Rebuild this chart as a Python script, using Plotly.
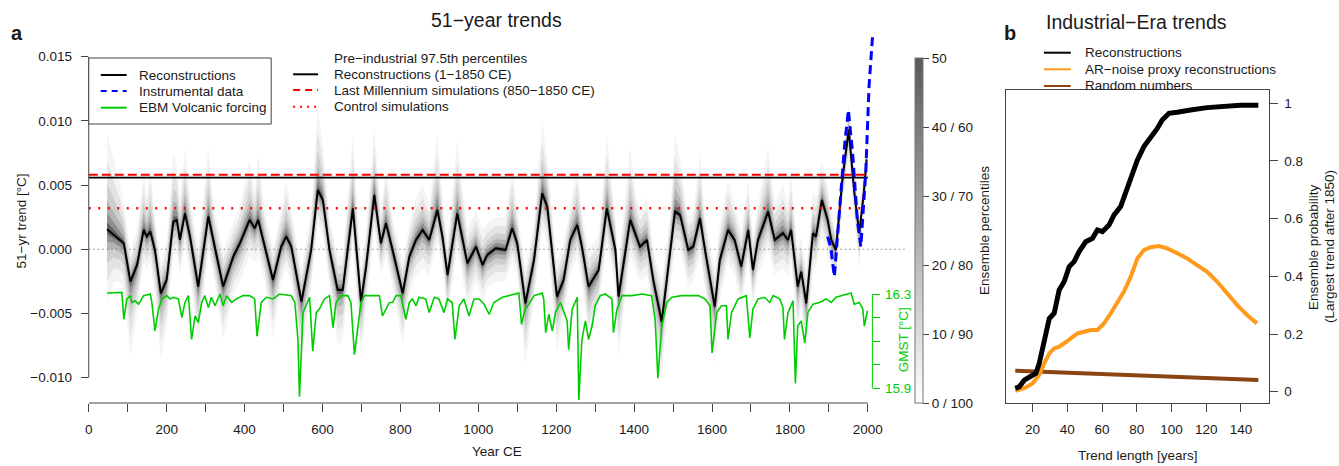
import plotly.graph_objects as go

W, H = 1339, 466
FONT = "Liberation Sans, Arial, sans-serif"

# ---------------- Panel a data ----------------
# Reconstruction ensemble median 51-yr trend (units: 1e-3 degC)
rec_years = [47,64,81,90,107,124,141,149,158,170,185,200,217,226,234,247,260,281,307,320,345,371,388,413,426,435,452,473,494,507,520,546,571,588,601,618,639,652,678,699,712,733,750,763,780,806,823,840,857,874,895,908,921,946,972,994,1011,1023,1045,1070,1087,1100,1121,1143,1164,1177,1202,1219,1236,1254,1266,1283,1309,1330,1352,1360,1390,1403,1415,1433,1450,1471,1492,1505,1518,1539,1552,1569,1582,1607,1620,1641,1658,1675,1693,1705,1718,1744,1761,1782,1795,1803,1820,1829,1842,1859,1867,1882,1897,1906,1918,1935,1951,1965,1978,1990,1997]
rec_median = [1.56,1.12,0.73,0.47,-2.52,-1.22,1.5,0.99,1.38,-0.05,-3.43,-2.39,2.16,2.29,0.73,2.8,0.99,-2.9,2.55,0.73,-2.9,-0.57,0.47,2.29,1.64,2.29,0.21,-2.39,0.21,0.99,0.21,-4.08,-0.05,4.62,3.84,-0.05,-3.17,-3.17,3.19,-4.08,-1.35,4.23,0.47,2.03,-0.05,-3.43,-0.57,0.73,1.5,0.73,3.06,0.99,-2.0,2.8,-1.09,0.21,-1.22,-0.44,0.08,-0.05,1.64,0.47,-4.21,-0.83,4.36,3.32,-3.69,-2.39,0.73,1.9,0.21,-2.9,-1.61,3.19,-0.05,-3.69,2.29,1.25,0.21,0.73,-2.52,-5.64,-0.05,2.94,2.68,-0.05,0.21,2.42,-0.05,-4.47,-0.83,1.51,0.73,-1.35,1.51,-1.61,0.73,2.94,0.73,1.25,0.73,1.51,-2.9,-1.74,-4.21,1.25,0.99,3.84,2.29,0.73,-0.05,5.5,9.3,4.5,1.25,4.5,7.0]
rec_upper = [9.0,7.0,5.0,3.5,0.0,1.5,6.0,4.0,6.5,2.5,-1.0,0.5,7.5,6.5,4.0,8.0,4.0,0.0,8.0,3.5,0.0,2.0,3.5,7.0,4.5,7.5,3.0,0.0,3.0,5.5,3.0,-1.5,3.0,11.0,8.0,2.5,-0.5,-0.5,9.0,-1.5,1.5,9.5,3.0,6.5,2.5,-1.0,2.0,4.0,5.0,3.5,9.0,4.0,0.5,8.5,1.5,3.0,1.5,2.0,2.5,2.5,6.5,3.0,-1.5,2.0,10.0,7.0,-1.0,0.5,3.5,6.5,3.0,0.0,1.0,9.0,2.5,-1.0,8.0,4.5,3.0,4.0,0.0,-2.5,2.5,9.0,7.0,2.5,3.0,7.5,2.5,-1.5,2.0,5.5,3.5,1.5,5.5,1.0,3.5,8.0,3.5,5.0,3.5,6.0,0.0,1.0,-1.5,4.5,4.0,7.0,5.0,3.0,1.5,7.5,11.5,6.5,2.5,6.5,9.5]
rec_lower = [-4.0,-2.5,-2.5,-3.0,-8.5,-5.0,-1.0,-1.5,-1.0,-3.5,-8.5,-6.0,-0.5,-0.3,-2.0,0.3,-2.0,-7.5,-0.2,-2.0,-7.0,-3.5,-2.5,-0.5,-1.0,-0.5,-2.5,-7.0,-2.5,-1.5,-2.5,-9.0,-3.0,2.0,1.0,-3.0,-7.5,-7.0,0.5,-8.5,-4.5,1.5,-2.0,-0.5,-3.0,-7.5,-3.5,-2.0,-1.5,-2.0,0.5,-1.5,-5.5,0.2,-4.5,-2.5,-4.0,-3.0,-2.5,-2.5,-1.0,-2.0,-9.0,-4.0,1.5,0.5,-8.0,-5.5,-2.0,-0.5,-2.5,-7.0,-4.5,0.5,-3.0,-8.5,-0.5,-1.5,-2.5,-2.0,-6.0,-10.0,-3.0,0.0,0.0,-3.0,-2.5,-0.5,-3.0,-9.0,-4.0,-1.0,-2.0,-4.5,-1.0,-4.5,-2.0,0.0,-2.0,-1.5,-2.0,-1.0,-6.5,-4.5,-8.5,-1.5,-1.5,1.0,-0.5,-1.5,-2.5,3.5,7.0,2.5,-1.5,2.5,5.0]

# Instrumental data (1e-3 degC)
inst_years = [1897,1905,1914,1927,1940,1950,1961,1973,1982,1995,2003,2012]
inst_vals = [0.98,0.1,-2.13,2.8,8.0,10.85,7.47,2.28,0.2,6.18,12.66,16.56]

# EBM volcanic forcing GMST (degC)
ebm_years = [47,85,90,98,107,111,119,128,141,158,162,170,179,188,200,209,217,230,239,247,256,264,273,281,290,298,307,315,324,337,345,354,367,379,396,413,426,432,443,456,473,490,520,529,537,541,550,567,575,584,592,605,618,627,635,648,665,673,682,691,699,708,737,746,754,763,772,780,789,801,814,823,831,840,848,865,874,887,899,912,921,933,940,951,963,976,989,1002,1015,1028,1040,1062,1079,1104,1111,1120,1130,1143,1164,1168,1173,1181,1190,1198,1211,1228,1232,1241,1254,1258,1266,1275,1283,1292,1300,1313,1326,1343,1347,1356,1369,1394,1420,1445,1454,1461,1471,1484,1497,1522,1539,1565,1582,1595,1600,1612,1624,1637,1641,1650,1667,1688,1697,1705,1718,1735,1748,1757,1774,1782,1786,1795,1808,1814,1820,1829,1838,1846,1859,1876,1893,1906,1918,1931,1957,1965,1978,1987,1991,1999]
ebm_gmst = [16.304,16.307,16.193,16.279,16.293,16.264,16.271,16.257,16.293,16.300,16.264,16.143,16.236,16.279,16.293,16.279,16.286,16.279,16.200,16.264,16.293,16.107,16.207,16.179,16.264,16.293,16.243,16.286,16.250,16.300,16.250,16.293,16.264,16.279,16.293,16.293,16.279,16.121,16.264,16.286,16.279,16.300,16.293,16.264,16.107,15.864,16.221,16.286,16.057,16.221,16.236,16.279,16.293,16.157,16.264,16.293,16.293,16.264,16.043,16.164,16.264,16.293,16.293,16.293,16.207,16.236,16.264,16.264,16.293,16.293,16.193,16.264,16.279,16.250,16.286,16.279,16.221,16.286,16.279,16.221,16.279,16.264,16.107,16.250,16.279,16.207,16.279,16.279,16.257,16.214,16.264,16.286,16.293,16.304,16.171,16.236,16.257,16.293,16.304,16.279,16.136,16.214,16.143,16.221,16.264,16.186,16.064,16.236,16.286,15.850,16.107,16.186,16.107,16.164,16.250,16.293,16.300,16.279,16.136,16.236,16.293,16.293,16.300,16.293,16.193,15.943,16.164,16.264,16.286,16.293,16.293,16.293,16.279,16.250,16.050,16.221,16.250,16.250,16.107,16.221,16.279,16.293,16.114,16.236,16.279,16.286,16.264,16.293,16.279,16.243,16.107,16.221,16.271,15.921,16.164,16.186,16.093,16.221,16.257,16.264,16.279,16.264,16.286,16.293,16.304,16.257,16.264,16.236,16.164,16.229]

# Pre-industrial 97.5th percentiles (1e-3 degC)
pct_span = [0, 2000]
pct_reconstructions = 5.58
pct_lastmillennium = 5.81
pct_control = 3.19

# Colorbar ticks
cb_vals = [0, 10, 20, 30, 40, 50]
cb_text = ["0 / 100", "10 / 90", "20 / 80", "30 / 70", "40 / 60", "50"]

# ---------------- Panel b data ----------------
rec_len = [10,12.3,15.2,19,21.9,23.8,25.7,27.7,29.6,32.4,35.3,38.2,41.1,43.9,46.8,50.6,54.5,57.3,60.2,64,66.9,70.7,74.5,77.4,80.3,84.1,87.9,91.8,94.6,98.5,103.3,107.1,110.9,120.5,130,139.6,150]
rec_prob = [0.012,0.017,0.04,0.052,0.064,0.098,0.156,0.202,0.254,0.272,0.353,0.382,0.434,0.451,0.486,0.520,0.532,0.561,0.555,0.578,0.613,0.642,0.711,0.757,0.803,0.850,0.879,0.913,0.942,0.965,0.969,0.971,0.977,0.985,0.991,0.993,0.993]
ar_len = [10,15.2,20,23.8,26.7,29.6,32.4,35.3,38.2,42,45.8,49.7,53.5,57.3,61.1,65,68.8,72.6,76.5,80.3,84.1,87.9,92.7,97.5,103.3,109,114.7,120.5,126.2,132,137.7,143.5,149.2]
ar_prob = [0.003,0.012,0.029,0.058,0.098,0.133,0.150,0.156,0.168,0.185,0.202,0.208,0.214,0.214,0.237,0.272,0.312,0.347,0.399,0.462,0.491,0.501,0.505,0.497,0.480,0.462,0.439,0.416,0.382,0.341,0.301,0.266,0.237]
rnd_len = [10,40,70,100,130,150]
rnd_prob = [0.073,0.066,0.058,0.052,0.045,0.041]

# ---------------- helpers ----------------
def PX(x):
    return x / W

def PY(y):
    return 1 - y / H

milli = lambda arr: [v / 1000.0 for v in arr]

GREEN = "#00CD00"
BLUE = "#0000FF"
RED = "#FF0000"
ORANGE = "#FF9A1A"
BROWN = "#8B4513"
AX = "#444444"
TXT = "#1a1a1a"

# panel a geometry (pixels)
a_left, a_right, a_top, a_bot = 85, 905.5, 28.5, 403
ya_lo = (249.3 - a_bot) / 12840.0
ya_hi = (249.3 - a_top) / 12840.0
g_per = 235.75
g_lo = 15.9 - (a_bot - 388.3) / g_per
g_hi = 16.3 + (294 - a_top) / g_per

# panel b geometry
b_left, b_right, b_top, b_bot = 1005, 1268.3, 90, 402.7

fig = go.Figure()

# gray ensemble shading
med = milli(rec_median)
up = milli(rec_upper)
lo = milli(rec_lower)
layers = [(1.0, 0.045), (0.72, 0.065), (0.48, 0.09), (0.3, 0.13), (0.17, 0.2), (0.07, 0.32)]
for f, a in layers:
    uu = [m + f * (u - m) for m, u in zip(med, up)]
    ll = [m + f * (l - m) for m, l in zip(med, lo)]
    fig.add_trace(go.Scatter(
        x=rec_years + rec_years[::-1], y=uu + ll[::-1],
        fill="toself", fillcolor=f"rgba(0,0,0,{a})", line=dict(width=0),
        mode="lines", hoverinfo="skip", showlegend=False, xaxis="x", yaxis="y"))

# zero line
fig.add_trace(go.Scatter(x=[0, 2100], y=[0, 0], mode="lines",
                         line=dict(color="#888888", width=1, dash="1.5px,3px"),
                         showlegend=False, xaxis="x", yaxis="y"))

# EBM green
fig.add_trace(go.Scatter(x=ebm_years, y=ebm_gmst, mode="lines",
                         line=dict(color=GREEN, width=1.6),
                         showlegend=False, xaxis="x", yaxis="y2"))

# median
fig.add_trace(go.Scatter(x=rec_years, y=med, mode="lines",
                         line=dict(color="#000000", width=2),
                         showlegend=False, xaxis="x", yaxis="y"))

# percentile lines
fig.add_trace(go.Scatter(x=pct_span, y=milli([pct_lastmillennium] * 2), mode="lines",
                         line=dict(color=RED, width=2, dash="9px,4px"),
                         showlegend=False, xaxis="x", yaxis="y"))
fig.add_trace(go.Scatter(x=pct_span, y=milli([pct_reconstructions] * 2), mode="lines",
                         line=dict(color="#000000", width=1.6),
                         showlegend=False, xaxis="x", yaxis="y"))
fig.add_trace(go.Scatter(x=pct_span, y=milli([pct_control] * 2), mode="lines",
                         line=dict(color=RED, width=2.5, dash="2px,7.5px"),
                         showlegend=False, xaxis="x", yaxis="y"))

# instrumental
fig.add_trace(go.Scatter(x=inst_years, y=milli(inst_vals), mode="lines",
                         line=dict(color=BLUE, width=3, dash="9px,5px"),
                         showlegend=False, xaxis="x", yaxis="y"))

# colorbar carrier
fig.add_trace(go.Scatter(
    x=[1000], y=[0], mode="markers", xaxis="x", yaxis="y", hoverinfo="skip",
    showlegend=False,
    marker=dict(size=1, opacity=0, color=[0], cmin=0, cmax=50,
                colorscale=[[0, "#ffffff"], [1, "#595959"]], showscale=True,
                colorbar=dict(x=PX(914), xanchor="left", y=PY(58), yanchor="top",
                              len=345, lenmode="pixels", thickness=8,
                              thicknessmode="pixels", xpad=0, ypad=0,
                              outlinewidth=1, outlinecolor="#777777",
                              ticks="outside", ticklen=6, tickcolor=AX,
                              tickvals=cb_vals, ticktext=cb_text,
                              tickfont=dict(family=FONT, size=13.5, color=TXT)))))

# panel b traces
fig.add_trace(go.Scatter(x=rnd_len, y=rnd_prob, mode="lines",
                         line=dict(color=BROWN, width=4), showlegend=False,
                         xaxis="x3", yaxis="y3"))
fig.add_trace(go.Scatter(x=ar_len, y=ar_prob, mode="lines",
                         line=dict(color=ORANGE, width=4), showlegend=False,
                         xaxis="x3", yaxis="y3"))
fig.add_trace(go.Scatter(x=rec_len, y=rec_prob, mode="lines",
                         line=dict(color="#000000", width=5), showlegend=False,
                         xaxis="x3", yaxis="y3"))

tickfont = dict(family=FONT, size=13.5, color=TXT)

fig.update_layout(
    width=W, height=H, margin=dict(l=0, r=0, t=0, b=0),
    paper_bgcolor="white", plot_bgcolor="white",
    font=dict(family=FONT, size=13.5, color=TXT),
    showlegend=False,
    xaxis=dict(domain=[PX(a_left), PX(a_right)], range=[0, 2100], anchor="y",
               tickvals=list(range(0, 2001, 100)),
               ticktext=[str(v) if v % 200 == 0 else "" for v in range(0, 2001, 100)],
               ticks="outside", ticklen=8, tickcolor=AX, showline=False,
               showgrid=False, zeroline=False, tickfont=tickfont,
               ticklabelstandoff=6),
    yaxis=dict(domain=[PY(a_bot), PY(a_top)], range=[ya_lo, ya_hi], anchor="x",
               tickvals=[-0.010, -0.005, 0.0, 0.005, 0.010, 0.015],
               tickformat=".3f", ticks="outside", ticklen=7, tickcolor=AX,
               showline=False, showgrid=False, zeroline=False, tickfont=tickfont,
               ticklabelstandoff=6),
    yaxis2=dict(overlaying="y", range=[g_lo, g_hi], anchor="free",
                position=PX(871), side="right",
                tickvals=[15.9, 16.0, 16.1, 16.2, 16.3],
                ticktext=["15.9", "", "", "", "16.3"],
                ticks="outside", ticklen=7, tickcolor=GREEN,
                showline=False, showgrid=False, zeroline=False,
                tickfont=dict(family=FONT, size=13.5, color=GREEN),
                ticklabelstandoff=2),
    xaxis3=dict(domain=[PX(b_left), PX(b_right)], range=[4.67, 155.85], anchor="y3",
                tickvals=[20, 40, 60, 80, 100, 120, 140], ticks="outside", ticklen=8,
                tickcolor=AX, showline=True, linecolor=AX, linewidth=1, mirror=True,
                showgrid=False, zeroline=False, tickfont=tickfont,
                ticklabelstandoff=6),
    yaxis3=dict(domain=[PY(b_bot), PY(b_top)], range=[-0.0381, 1.0461], anchor="x3",
                side="right", tickvals=[0, 0.2, 0.4, 0.6, 0.8, 1.0],
                ticktext=["0", "0.2", "0.4", "0.6", "0.8", "1"],
                ticks="outside", ticklen=8, tickcolor=AX, showline=True,
                linecolor=AX, linewidth=1, mirror=True, showgrid=False,
                zeroline=False, tickfont=tickfont, ticklabelstandoff=4),
)

shapes = []
# R style axis lines for panel a
shapes.append(dict(type="line", xref="x", yref="paper", x0=0, x1=2000,
                   y0=PY(a_bot), y1=PY(a_bot), line=dict(color=AX, width=1)))
shapes.append(dict(type="line", xref="paper", yref="y", x0=PX(a_left), x1=PX(a_left),
                   y0=-0.010, y1=0.015, line=dict(color=AX, width=1)))
shapes.append(dict(type="line", xref="paper", yref="y2", x0=PX(871), x1=PX(871),
                   y0=15.9, y1=16.3, line=dict(color=GREEN, width=1)))
# legend box (panel a, left)
shapes.append(dict(type="rect", xref="paper", yref="paper", x0=PX(85), x1=PX(268),
                   y0=PY(124), y1=PY(58), line=dict(color=AX, width=1),
                   fillcolor="white", layer="above"))

def leg_line(x0, x1, y, color, width, dash="solid"):
    shapes.append(dict(type="line", xref="paper", yref="paper", x0=PX(x0), x1=PX(x1),
                       y0=PY(y), y1=PY(y), line=dict(color=color, width=width, dash=dash),
                       layer="above"))

leg_line(97, 123, 75, "#000000", 2)
leg_line(97, 123, 91, BLUE, 2, "6px,5px")
leg_line(97, 123, 107.7, GREEN, 2)
leg_line(290, 315, 74.3, "#000000", 2)
leg_line(290, 315, 90, RED, 2, "7px,5px")
leg_line(290, 315, 106.7, RED, 2, "2px,5px")
leg_line(1043, 1070, 52.7, "#000000", 2)
leg_line(1043, 1070, 69.3, ORANGE, 2)
leg_line(1043, 1070, 86, BROWN, 2)
fig.update_layout(shapes=shapes)

ann = []
def text(x, y, s, size=13.5, xanchor="left", color=TXT, angle=0, bold=False):
    ann.append(dict(x=PX(x), y=PY(y), xref="paper", yref="paper", text=(f"<b>{s}</b>" if bold else s),
                    showarrow=False, xanchor=xanchor, yanchor="middle", textangle=angle,
                    font=dict(family=FONT, size=size, color=color)))

text(133, 75, "Reconstructions")
text(133, 91, "Instrumental data")
text(133, 107.7, "EBM Volcanic forcing")
text(329, 58.3, "Pre−industrial 97.5th percentiles")
text(329, 74.3, "Reconstructions (1−1850 CE)")
text(329, 90, "Last Millennium simulations (850−1850 CE)")
text(329, 106.7, "Control simulations")
text(1082, 52.7, "Reconstructions")
text(1082, 69.3, "AR−noise proxy reconstructions")
text(1082, 86, "Random numbers")
text(494, 20, "51−year trends", size=19.5, xanchor="center")
text(1136, 22, "Industrial−Era trends", size=19.5, xanchor="center")
text(13, 33, "a", size=20, xanchor="center", bold=True)
text(1009, 33, "b", size=20, xanchor="center", bold=True)
text(494, 451, "Year CE", xanchor="center")
text(18.5, 221, "51−yr trend [°C]", xanchor="center", angle=-90)
text(902, 340, "GMST [°C]", xanchor="center", angle=-90, color=GREEN)
text(983, 231, "Ensemble percentiles", xanchor="center", angle=-90)
text(1313, 247, "Ensemble probability", xanchor="center", angle=-90)
text(1329, 247, "(Largest trend after 1850)", xanchor="center", angle=-90)
text(1137, 455.5, "Trend length [years]", xanchor="center")
fig.update_layout(annotations=ann)

fig.write_html("out.html", config={"displayModeBar": False},
               post_script="document.body.style.margin='0px';document.body.style.padding='0px';")
